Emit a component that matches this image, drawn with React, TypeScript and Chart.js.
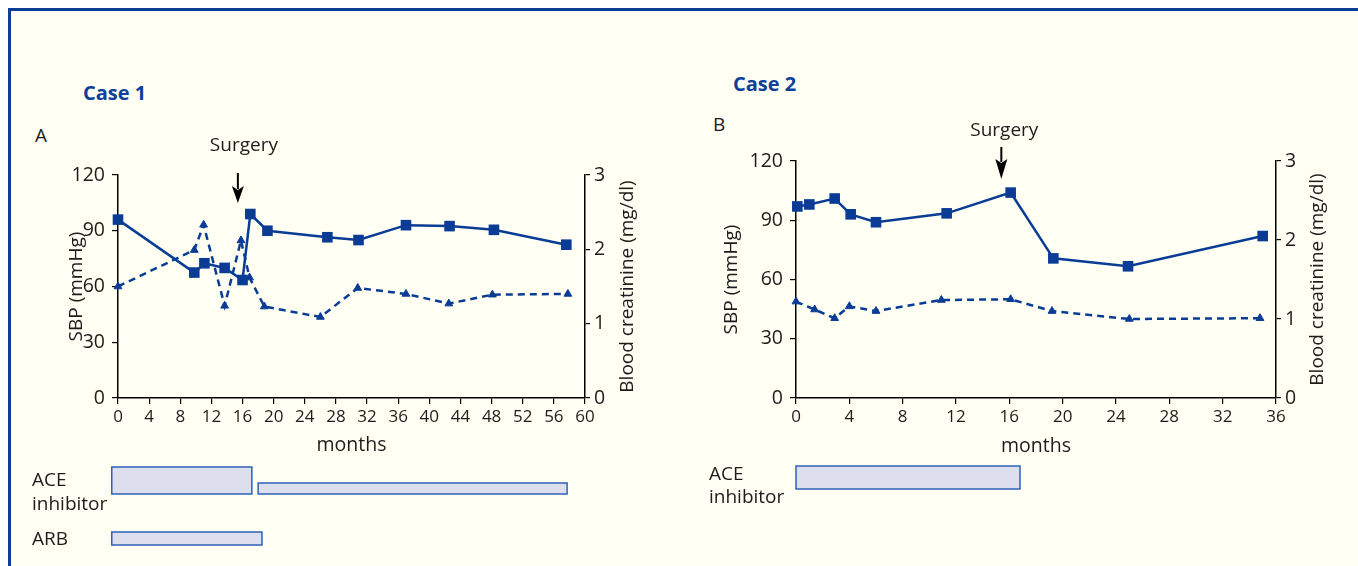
import React, { useEffect, useRef } from "react";
import { Chart, registerables } from "chart.js";

Chart.register(...registerables);

const BLUE = "#0a3c96";
const TEXT = "#1c1c1c";
const FONT = '"Open Sans", "Noto Sans", sans-serif';

// ---------------- Case 1 data ----------------
const case1SbpMonths = [0, 9.8, 11.1, 13.7, 16.0, 17.0, 19.2, 26.9, 30.9, 37.0, 42.6, 48.3, 57.6];
const case1Sbp = [96, 67.5, 72.5, 70, 63.5, 99, 90, 86.5, 85, 93, 92.5, 90.5, 82.5];
const case1CrMonths = [0, 9.8, 11.0, 13.7, 15.8, 16.9, 18.8, 26.0, 30.8, 37.0, 42.5, 48.1, 57.8];
const case1Cr = [1.5, 1.99, 2.33, 1.24, 2.12, 1.62, 1.23, 1.09, 1.48, 1.4, 1.27, 1.39, 1.4];
const case1MonthTicks = [0, 4, 8, 12, 16, 20, 24, 28, 32, 36, 40, 44, 48, 52, 56, 60];
const case1Surgery = 15.4;
const case1AceStart = [-0.8, 18.0];
const case1AceEnd = [17.2, 57.7];
const case1ArbStart = [-0.8];
const case1ArbEnd = [18.5];

// ---------------- Case 2 data ----------------
const case2SbpMonths = [0.1, 1.0, 2.9, 4.1, 6.0, 11.3, 16.1, 19.3, 24.9, 35.0];
const case2Sbp = [97, 98, 101, 93, 89, 93.5, 104, 70.7, 66.7, 82];
const case2CrMonths = [0, 1.4, 2.9, 4.0, 6.0, 10.9, 16.1, 19.2, 25.0, 34.8];
const case2Cr = [1.22, 1.12, 1.01, 1.16, 1.1, 1.24, 1.25, 1.1, 1.0, 1.01];
const case2MonthTicks = [0, 4, 8, 12, 16, 20, 24, 28, 32, 36];
const case2Surgery = 15.4;
const case2AceStart = [0];
const case2AceEnd = [16.8];

// shared axis ticks
const sbpTicks = [0, 30, 60, 90, 120];
const crTicks = [0, 1, 2, 3];

const toPoints = (xs: number[], ys: number[]) => xs.map((x, i) => ({ x, y: ys[i] }));

type Row = { label: string[]; labelX: number; labelY: number[]; starts: number[]; ends: number[]; bottom: number; heights: number[] };

type PanelCfg = {
  id: string;
  left: number; top: number; w: number; h: number;
  pad: { top: number; left: number; right: number; bottom: number };
  yWidth: number; y2Width: number; xHeight: number; yTitlePad: number;
  xMax: number; monthTicks: number[];
  sbpX: number[]; sbp: number[]; crX: number[]; cr: number[];
  rightTitleX: number;
  surgery: number; arrowTop: number; arrowHead: number; arrowTip: number; surgeryDx: number; surgeryY: number;
  rows: Row[];
};

const panel1: PanelCfg = {
  id: "p1",
  left: 0, top: 110, w: 660, h: 456,
  pad: { top: 65, left: 0, right: 0, bottom: 109 },
  yWidth: 118, y2Width: 75, xHeight: 59, yTitlePad: 65,
  xMax: 60, monthTicks: case1MonthTicks,
  sbpX: case1SbpMonths, sbp: case1Sbp, crX: case1CrMonths, cr: case1Cr,
  rightTitleX: 628,
  surgery: case1Surgery, arrowTop: 173, arrowHead: 186, arrowTip: 203, surgeryDx: 6, surgeryY: 146,
  rows: [
    { label: ["ACE", "inhibitor"], labelX: 32, labelY: [481, 505], starts: case1AceStart, ends: case1AceEnd, bottom: 494, heights: [27, 11] },
    { label: ["ARB"], labelX: 32, labelY: [540], starts: case1ArbStart, ends: case1ArbEnd, bottom: 545, heights: [13] },
  ],
};

const panel2: PanelCfg = {
  id: "p2",
  left: 660, top: 100, w: 698, h: 466,
  pad: { top: 61, left: 0, right: 0, bottom: 108 },
  yWidth: 136, y2Width: 82, xHeight: 60, yTitlePad: 60,
  xMax: 36, monthTicks: case2MonthTicks,
  sbpX: case2SbpMonths, sbp: case2Sbp, crX: case2CrMonths, cr: case2Cr,
  rightTitleX: 1318,
  surgery: case2Surgery, arrowTop: 147, arrowHead: 159, arrowTip: 179, surgeryDx: 3, surgeryY: 131,
  rows: [
    { label: ["ACE", "inhibitor"], labelX: 709, labelY: [475, 498], starts: case2AceStart, ends: case2AceEnd, bottom: 489, heights: [23] },
  ],
};

function makeExtras(cfg: PanelCfg) {
  return {
    id: "extras_" + cfg.id,
    afterDraw(chart: any) {
      const ctx: CanvasRenderingContext2D = chart.ctx;
      const xs = chart.scales.x;
      const area = chart.chartArea;
      const cx = cfg.left;
      const cy = cfg.top;
      ctx.save();
      ctx.fillStyle = TEXT;
      ctx.font = `19px ${FONT}`;
      ctx.textAlign = "center";
      ctx.textBaseline = "middle";
      // right axis title (reads bottom-to-top)
      ctx.save();
      ctx.translate(cfg.rightTitleX - cx, (area.top + area.bottom) / 2);
      ctx.rotate(-Math.PI / 2);
      ctx.fillText("Blood creatinine (mg/dl)", 0, 0);
      ctx.restore();

      // surgery arrow
      const ax = xs.getPixelForValue(cfg.surgery);
      ctx.strokeStyle = "#000";
      ctx.fillStyle = "#000";
      ctx.lineWidth = 2;
      ctx.beginPath();
      ctx.moveTo(ax, cfg.arrowTop - cy);
      ctx.lineTo(ax, cfg.arrowHead - cy + 3);
      ctx.stroke();
      ctx.beginPath();
      ctx.moveTo(ax - 6, cfg.arrowHead - cy);
      ctx.lineTo(ax, cfg.arrowHead - cy + 4);
      ctx.lineTo(ax + 6, cfg.arrowHead - cy);
      ctx.lineTo(ax, cfg.arrowTip - cy);
      ctx.closePath();
      ctx.fill();
      ctx.fillStyle = TEXT;
      ctx.fillText("Surgery", ax + cfg.surgeryDx, cfg.surgeryY - cy);

      // treatment rows
      for (const row of cfg.rows) {
        ctx.textAlign = "left";
        ctx.fillStyle = TEXT;
        row.label.forEach((t, i) => ctx.fillText(t, row.labelX - cx, row.labelY[i] - cy));
        row.starts.forEach((s, i) => {
          const x0 = xs.getPixelForValue(s);
          const x1 = xs.getPixelForValue(row.ends[i]);
          const hh = row.heights[i];
          const yb = row.bottom - cy;
          ctx.fillStyle = "#dedfee";
          ctx.fillRect(x0, yb - hh, x1 - x0, hh);
          ctx.strokeStyle = "#2f62b8";
          ctx.lineWidth = 1.5;
          ctx.strokeRect(x0, yb - hh, x1 - x0, hh);
        });
      }
      ctx.restore();
    },
  };
}

function Panel({ cfg }: { cfg: PanelCfg }) {
  const ref = useRef<HTMLCanvasElement>(null);
  useEffect(() => {
    if (!ref.current) return;
    const axisCommon = {
      grid: { drawOnChartArea: false, drawTicks: true, color: "#000", lineWidth: 1.2 },
      border: { display: true, color: "#000", width: 1.5 },
    };
    const chart = new Chart(ref.current, {
      type: "line",
      data: {
        datasets: [
          {
            label: "SBP",
            data: toPoints(cfg.sbpX, cfg.sbp),
            yAxisID: "y",
            borderColor: BLUE,
            backgroundColor: BLUE,
            borderWidth: 2.5,
            pointStyle: "rect",
            pointRadius: 7.5,
            pointBackgroundColor: BLUE,
            pointBorderColor: BLUE,
            pointBorderWidth: 0,
            tension: 0,
            clip: false,
          },
          {
            label: "Creatinine",
            data: toPoints(cfg.crX, cfg.cr),
            yAxisID: "y2",
            borderColor: BLUE,
            backgroundColor: BLUE,
            borderWidth: 2.5,
            borderDash: [7, 5],
            pointStyle: "triangle",
            pointRadius: 4.5,
            pointBackgroundColor: BLUE,
            pointBorderColor: BLUE,
            pointBorderWidth: 1,
            tension: 0,
            clip: false,
          },
        ],
      },
      options: {
        responsive: false,
        animation: false,
        layout: { padding: cfg.pad },
        plugins: { legend: { display: false }, tooltip: { enabled: false } },
        scales: {
          x: {
            type: "linear",
            min: 0,
            max: cfg.xMax,
            afterBuildTicks: (s: any) => {
              s.ticks = cfg.monthTicks.map((v) => ({ value: v }));
            },
            afterFit: (s: any) => {
              s.height = cfg.xHeight;
            },
            ticks: { autoSkip: false, maxRotation: 0, padding: 3, color: TEXT, font: { size: 17, family: FONT } },
            grid: { ...axisCommon.grid, tickLength: 6 },
            border: axisCommon.border,
            title: { display: true, text: "months", color: TEXT, font: { size: 19.5, family: FONT }, padding: { top: 0, bottom: 0 } },
          },
          y: {
            type: "linear",
            position: "left",
            min: 0,
            max: 120,
            afterBuildTicks: (s: any) => {
              s.ticks = sbpTicks.map((v) => ({ value: v }));
            },
            afterFit: (s: any) => {
              s.width = cfg.yWidth;
            },
            ticks: { padding: 7, color: TEXT, font: { size: 19.5, family: FONT } },
            grid: { ...axisCommon.grid, tickLength: 6 },
            border: axisCommon.border,
            title: { display: true, text: "SBP (mmHg)", color: TEXT, font: { size: 19, family: FONT }, padding: { top: cfg.yTitlePad, bottom: 0 } },
          },
          y2: {
            type: "linear",
            position: "right",
            min: 0,
            max: 3,
            afterBuildTicks: (s: any) => {
              s.ticks = crTicks.map((v) => ({ value: v }));
            },
            afterFit: (s: any) => {
              s.width = cfg.y2Width;
            },
            ticks: { padding: 4, color: TEXT, font: { size: 19.5, family: FONT } },
            grid: { ...axisCommon.grid, tickLength: 5 },
            border: axisCommon.border,
          },
        },
      } as any,
      plugins: [makeExtras(cfg)],
    });
    return () => chart.destroy();
  }, []);
  return (
    <canvas
      ref={ref}
      width={cfg.w}
      height={cfg.h}
      style={{ position: "absolute", left: cfg.left, top: cfg.top, width: cfg.w, height: cfg.h, display: "block" }}
    />
  );
}

const label = (left: number, top: number, text: string, extra: React.CSSProperties = {}) => (
  <div
    style={{
      position: "absolute",
      left,
      top,
      fontFamily: FONT,
      fontSize: 18,
      lineHeight: "24px",
      color: TEXT,
      whiteSpace: "nowrap",
      ...extra,
    }}
  >
    {text}
  </div>
);

export default function App() {
  return (
    <div style={{ position: "absolute", left: 0, top: 0, width: 1358, height: 566, background: "#fff", overflow: "hidden" }}>
      <div
        style={{
          position: "absolute",
          left: 8,
          top: 8,
          width: 1350,
          height: 558,
          boxSizing: "border-box",
          borderTop: "3px solid #0b3f94",
          borderLeft: "3px solid #0b3f94",
          background: "#fffff4",
        }}
      />
      {label(83, 81, "Case 1", { fontWeight: 700, color: "#0b4199", fontSize: 20 })}
      {label(733, 72, "Case 2", { fontWeight: 700, color: "#0b4199", fontSize: 20 })}
      {label(35, 123, "A", { fontSize: 19 })}
      {label(713, 112, "B", { fontSize: 19 })}
      <Panel cfg={panel1} />
      <Panel cfg={panel2} />
    </div>
  );
}
